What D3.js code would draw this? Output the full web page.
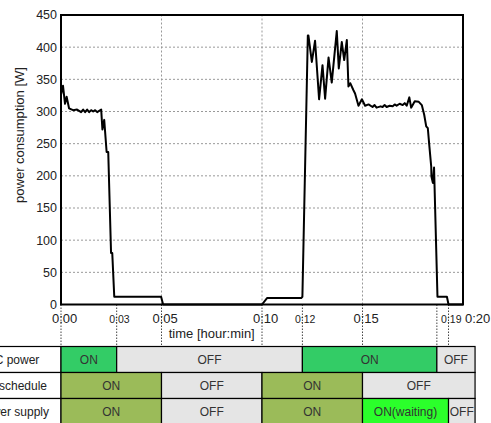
<html>
<head>
    <title>Power consumption</title>
    <script src="https://d3js.org/d3.v7.min.js"></script>
    <style>
        body { margin: 0; background: #fff; }
        text { font-family: "Liberation Sans", Arial, sans-serif; fill: #222; }
    </style>
</head>
<body>
    <svg width="491" height="423"></svg>
    <script>
        // measured power [W] against time [min]
        const timeMin = [0, 0.1, 0.2, 0.28, 0.4, 0.6, 0.8, 1.0, 1.1, 1.2, 1.3, 1.4, 1.5, 1.6, 1.7, 1.8, 1.9, 2.0,
            2.06, 2.15, 2.27, 2.35, 2.49, 2.55, 2.65, 4.0, 4.98, 5.08, 10.0, 10.25, 11.95, 12.01,
            12.28, 12.31, 12.48, 12.64, 12.84, 13.01, 13.14, 13.31, 13.47, 13.72, 13.82, 13.97, 14.09, 14.22,
            14.30, 14.39, 14.55, 14.63, 14.80, 14.97, 15.13, 15.3, 15.5, 15.6, 15.7, 15.9, 16.0, 16.1, 16.2,
            16.35, 16.5, 16.6, 16.7, 16.85, 17.0, 17.1, 17.2, 17.33, 17.42, 17.6, 17.8, 17.95, 18.07, 18.17,
            18.25, 18.33, 18.42, 18.43, 18.5, 18.56, 18.73, 19.2, 19.28, 20];
        const powerW = [326, 340, 312, 323, 305, 302, 303, 299, 303, 299, 303, 299, 302, 300, 302, 299, 301, 303,
            272, 287, 237, 237, 80, 80, 12, 12, 12, 0, 0, 10, 10, 12,
            418, 418, 377, 410, 319, 372, 320, 384, 345, 425, 367, 408, 380, 411,
            339, 344, 333, 328, 309, 319, 309, 311, 307, 310, 306, 308, 307, 310, 307,
            309, 308, 311, 309, 312, 310, 313, 309, 322, 306, 316, 315, 310, 295, 277,
            274, 245, 214, 199, 189, 213, 12, 12, 0, 0];

        const yTicks = [0, 50, 100, 150, 200, 250, 300, 350, 400, 450];
        const gridTimes = [5, 10, 15];
        const majorTickTimes = [0, 5, 10, 15, 20];
        const majorTickText = ["0:00", "0:05", "0:10", "0:15", "0:20"];
        const minorTickTimes = [2.77, 12.01, 19.28];
        const minorTickText = ["0:03", "0:12", "0:19"];
        const eventTimes = [0, 2.77, 5, 10, 12.01, 15, 18.70, 19.28];

        // state table
        const rowNames = ["AC power", "PC schedule", "Power supply"];
        const rowStarts = [[0, 2.77, 12.01, 18.70], [0, 5, 10, 15], [0, 5, 10, 15, 19.28]];
        const rowStates = [["ON", "OFF", "ON", "OFF"], ["ON", "OFF", "ON", "OFF"], ["ON", "OFF", "ON", "ON(waiting)", "OFF"]];
        const tableEnd = 20.6;

        const svg = d3.select('svg');
        const x = d3.scaleLinear().domain([0, 20]).range([61, 463]);
        const y = d3.scaleLinear().domain([0, 450]).range([304.5, 15]);

        const stateColor = (row, s) => {
            if (s === "OFF") return "#e5e5e5";
            if (s === "ON(waiting)") return "#2bff2b";
            return row === 0 ? "#33cc66" : "#9bbb59";
        };

        // grid
        svg.append('g').selectAll('line').data(yTicks.slice(1, -1)).join('line')
            .attr('x1', x(0)).attr('x2', x(20))
            .attr('y1', d => y(d)).attr('y2', d => y(d))
            .attr('stroke', '#999').attr('stroke-dasharray', '2,2');
        svg.append('g').selectAll('line').data(gridTimes).join('line')
            .attr('x1', d => x(d)).attr('x2', d => x(d))
            .attr('y1', y(0)).attr('y2', y(450))
            .attr('stroke', '#999').attr('stroke-dasharray', '2,2');

        // event lines down to the table
        svg.append('g').selectAll('line').data(eventTimes).join('line')
            .attr('x1', d => x(d)).attr('x2', d => x(d))
            .attr('y1', y(0)).attr('y2', 346)
            .attr('stroke', '#444').attr('stroke-dasharray', '1.5,1.5');

        // frame
        svg.append('rect')
            .attr('x', x(0)).attr('y', y(450))
            .attr('width', x(20) - x(0)).attr('height', y(0) - y(450))
            .attr('fill', 'none').attr('stroke', '#000').attr('stroke-width', 2);

        // data line
        const pts = timeMin.map((t, i) => [t, powerW[i]]);
        svg.append('path')
            .datum(pts)
            .attr('d', d3.line().x(d => x(d[0])).y(d => y(d[1])))
            .attr('fill', 'none').attr('stroke', '#000').attr('stroke-width', 2)
            .attr('stroke-linejoin', 'round');

        // y tick labels
        svg.append('g').selectAll('text').data(yTicks).join('text')
            .attr('x', 57).attr('y', d => y(d)).attr('dy', '0.35em')
            .attr('text-anchor', 'end').style('font-size', '12.5px')
            .text(d => d);

        svg.append('text')
            .attr('transform', 'translate(24,135) rotate(-90)')
            .attr('text-anchor', 'middle').style('font-size', '13px')
            .text('power consumption [W]');

        // x tick labels, colon sits on the tick
        svg.append('g').selectAll('text').data(majorTickTimes).join('text')
            .attr('x', d => x(d)).attr('y', 323)
            .attr('text-anchor', (d, i) => i === majorTickTimes.length - 1 ? 'start' : 'middle')
            .attr('dx', (d, i) => i === majorTickTimes.length - 1 ? 2 : 3.6)
            .style('font-size', '13px')
            .text((d, i) => majorTickText[i]);
        svg.append('g').selectAll('text').data(minorTickTimes).join('text')
            .attr('x', d => x(d)).attr('y', 322.5)
            .attr('text-anchor', 'middle').attr('dx', 2.8)
            .style('font-size', '10.5px')
            .text((d, i) => minorTickText[i]);

        svg.append('text')
            .attr('x', x(7.5)).attr('y', 338)
            .attr('text-anchor', 'middle').style('font-size', '13px')
            .text('time [hour:min]');

        // table
        const rowTop = [346.5, 372.5, 398.5];
        const rowH = 26;
        const table = svg.append('g');
        rowNames.forEach((name, r) => {
            const cells = rowStarts[r].map((t, i) => ({
                t0: t, t1: i < rowStarts[r].length - 1 ? rowStarts[r][i + 1] : tableEnd, s: rowStates[r][i]
            }));
            table.append('rect')
                .attr('x', -10).attr('y', rowTop[r]).attr('width', x(0) + 10).attr('height', rowH)
                .attr('fill', '#fff').attr('stroke', '#000').attr('stroke-width', 1.2);
            table.append('text')
                .attr('x', 13).attr('y', rowTop[r] + rowH / 2).attr('dy', '0.35em')
                .attr('text-anchor', 'middle').style('font-size', '12px')
                .text(name);
            const g = table.append('g');
            g.selectAll('rect').data(cells).join('rect')
                .attr('x', d => x(d.t0)).attr('y', rowTop[r])
                .attr('width', d => x(d.t1) - x(d.t0)).attr('height', rowH)
                .attr('fill', d => stateColor(r, d.s))
                .attr('stroke', '#000').attr('stroke-width', 1.2);
            g.selectAll('text').data(cells).join('text')
                .attr('x', d => (x(d.t0) + x(d.t1)) / 2).attr('y', rowTop[r] + rowH / 2).attr('dy', '0.35em')
                .attr('text-anchor', 'middle').style('font-size', '12px').style('fill', '#333')
                .text(d => d.s);
        });
    </script>
</body>
</html>
